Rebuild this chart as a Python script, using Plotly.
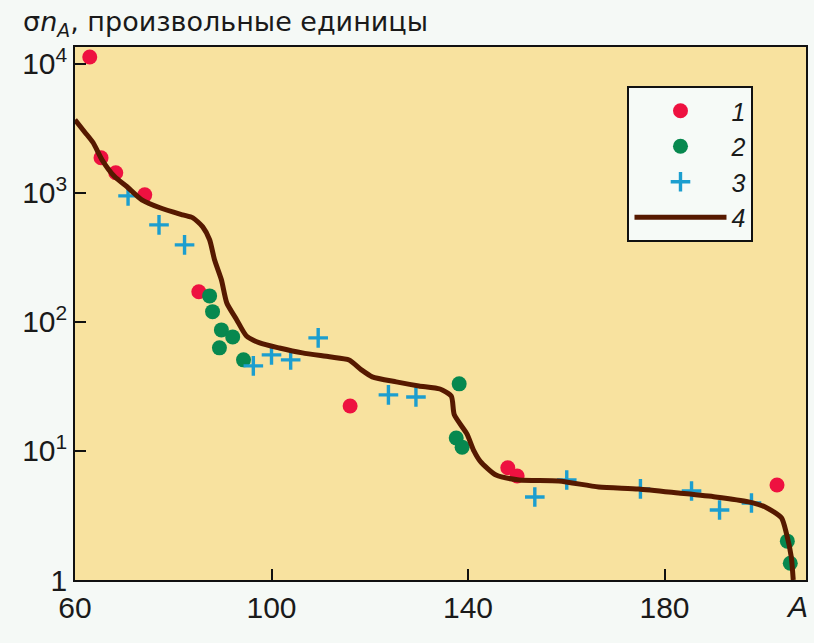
import plotly.graph_objects as go

# Series 1: red points
a1 = [63.0, 65.3, 68.3, 74.2, 85.2, 116.0, 148.1, 150.0, 202.9]
s1 = [11300, 1870, 1430, 965, 171, 22.3, 7.4, 6.4, 5.45]

# Series 2: green points
a2 = [87.4, 88.0, 89.8, 92.1, 89.4, 94.3, 138.2, 137.6, 138.8, 205.0, 205.6]
s2 = [159, 120, 86.7, 76.5, 62.9, 50.8, 33.1, 12.6, 10.7, 2.0, 1.35]

# Series 3: blue crosses
a3 = [70.8, 77.1, 82.3, 96.3, 100.0, 103.9, 109.5, 123.8, 129.4,
      153.6, 160.1, 175.1, 185.5, 191.2, 197.7]
s3 = [948, 565, 395, 45.6, 55.5, 50.8, 75.2, 27.2, 26.2,
      4.4, 5.96, 5.08, 4.9, 3.49, 3.95]

# Series 4: calculated curve
a4 = [60.0, 62.0, 63.7, 65.5, 68.1, 70.6, 73.6, 77.3, 81.9, 84.0, 86.0,
      87.4, 88.4, 89.8, 90.9, 92.9, 94.9, 97.6, 101.6, 106.3, 111.8,
      115.8, 118.3, 120.5, 125.4, 130.0, 134.3, 136.6, 137.2, 139.8,
      141.2, 142.5, 145.7, 150.4, 158.5, 166.6, 174.7, 182.8, 190.4,
      197.1, 200.5, 203.8, 204.8, 205.8, 206.2]
s4 = [3680, 2950, 2443, 1803, 1330, 1114, 883, 766, 675, 640, 545,
      433, 303, 212, 140, 104, 77.8, 68.7, 62.8, 57.5, 53.6,
      50.7, 42.5, 37.5, 34.3, 31.9, 30.2, 26.6, 19.1, 13.5,
      10.0, 8.3, 6.5, 5.96, 5.85, 5.26, 5.07, 4.72, 4.40,
      4.03, 3.68, 3.03, 2.31, 1.51, 1.0]

x_ticks = [60, 100, 140, 180]
y_ticks = [1, 10, 100, 1000, 10000]
y_labels = ["1", "10<sup>1</sup>", "10<sup>2</sup>", "10<sup>3</sup>", "10<sup>4</sup>"]
names = ["1", "2", "3", "4"]

RED = "#EE1140"
GREEN = "#07884F"
BLUE = "#1C9ECF"
BROWN = "#561900"
INK = "#1A1A1A"
FONT = "Liberation Sans, Arial, sans-serif"

fig = go.Figure()
fig.add_trace(go.Scatter(x=a1, y=s1, mode="markers", name=names[0],
                         marker=dict(color=RED, size=15, symbol="circle")))
fig.add_trace(go.Scatter(x=a2, y=s2, mode="markers", name=names[1],
                         marker=dict(color=GREEN, size=15, symbol="circle")))
fig.add_trace(go.Scatter(x=a3, y=s3, mode="markers", name=names[2],
                         marker=dict(color=BLUE, size=14, symbol="cross-thin",
                                     line=dict(color=BLUE, width=3.4))))
fig.add_trace(go.Scatter(x=a4, y=s4, mode="lines", name=names[3],
                         line=dict(color=BROWN, width=5, shape="spline", smoothing=0.6)))

fig.update_layout(
    width=814, height=643,
    margin=dict(l=75, r=6, t=47, b=63),
    paper_bgcolor="#F5F9F6",
    plot_bgcolor="#F8E29F",
    font=dict(family=FONT, size=30, color=INK),
    showlegend=True,
    legend=dict(
        x=(629 - 75) / 733, y=1 - (86 - 47) / 533,
        xanchor="left", yanchor="top",
        bgcolor="#F6FAF7", bordercolor="#111111", borderwidth=2,
        font=dict(family=FONT, size=25, color=INK, style="italic"),
        itemwidth=92, tracegroupgap=0,
    ),
    xaxis=dict(
        range=[60, 208.8], tickmode="array", tickvals=x_ticks,
        ticktext=[str(v) for v in x_ticks],
        ticks="inside", ticklen=11, tickwidth=1.6, tickcolor="#111111",
        showline=True, linecolor="#111111", linewidth=1.6, mirror=True,
        showgrid=False, zeroline=False,
    ),
    yaxis=dict(
        type="log", range=[0, 4.13], tickmode="array", tickvals=y_ticks,
        ticktext=y_labels,
        ticks="inside", ticklen=11, tickwidth=1.6, tickcolor="#111111",
        showline=True, linecolor="#111111", linewidth=1.6, mirror=True,
        showgrid=False, zeroline=False,
    ),
    annotations=[
        dict(text="σ<i>n</i><sub><i>A</i></sub>, произвольные единицы",
             xref="paper", yref="paper", x=(21 - 75) / 733, y=1.0,
             xanchor="left", yanchor="bottom", yshift=4, showarrow=False,
             font=dict(family="DejaVu Sans, Liberation Sans, sans-serif", size=27, color=INK)),
        dict(text="<i>A</i>", xref="paper", yref="paper", x=1.0, y=0,
             xanchor="right", yanchor="top", xshift=4, yshift=-8, showarrow=False,
             font=dict(family=FONT, size=30, color=INK)),
    ],
)

fig.write_html("out.html")
